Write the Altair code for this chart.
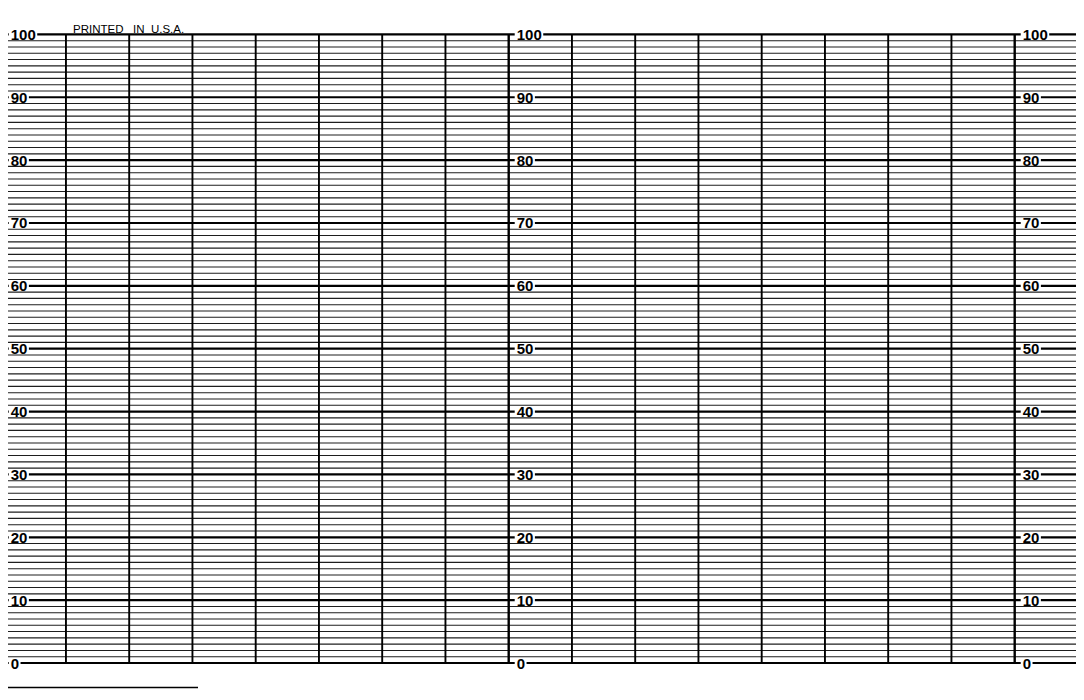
import altair as alt
import pandas as pd

# ---- data -------------------------------------------------------------
divisions = list(range(0, 18))          # vertical time divisions
section_starts = [0, 8, 16]             # heavy section lines carrying scale labels
levels = list(range(0, 101))            # horizontal chart lines (0..100)
major_levels = list(range(0, 101, 10))  # labelled lines
imprint_text = "PRINTED\u00a0\u00a0\u00a0IN\u00a0\u00a0U.S.A."

# ---- scales (division units / percent units) -------------------------
DIV_PX = 63.25
UNIT_PX = 6.286
VIEW_W, VIEW_H = 1068, 682
X_DOMAIN = [0.0838, 0.0838 + VIEW_W / DIV_PX]
Y_TOP = 100 + 26.4 / UNIT_PX
Y_DOMAIN = [Y_TOP - VIEW_H / UNIT_PX, Y_TOP]
xs = alt.Scale(domain=X_DOMAIN, nice=False, zero=False)
ys = alt.Scale(domain=Y_DOMAIN, nice=False, zero=False)

minor_df = pd.DataFrame({"v": [v for v in levels if v % 10 != 0]})
major_df = pd.DataFrame({"v": major_levels})
vert_df = pd.DataFrame({"d": [d for d in divisions if d not in section_starts],
                        "top": 100, "bot": 0})
sect_df = pd.DataFrame({"d": section_starts, "top": 100, "bot": 0})

FS = 15
lab_rows = []
for s in section_starts:
    for v in major_levels:
        t = str(v)
        lab_rows.append({
            "v": v, "t": t,
            "tx": s + 8 / DIV_PX,
            "b0": s + 6 / DIV_PX,
            "b1": s + (8 + len(t) * FS * 0.556 + 1.5) / DIV_PX,
        })
lab_df = pd.DataFrame(lab_rows)

X = lambda f: alt.X(f, type="quantitative", scale=xs, axis=None)
Y = lambda f: alt.Y(f, type="quantitative", scale=ys, axis=None)

minor = alt.Chart(minor_df).mark_rule(color="#1e1e1e", strokeWidth=1.1).encode(y=Y("v"))
major = alt.Chart(major_df).mark_rule(color="#000000", strokeWidth=2.2).encode(y=Y("v"))
verts = alt.Chart(vert_df).mark_rule(color="#000000", strokeWidth=1.9).encode(
    x=X("d"), y=Y("top"), y2="bot")
sects = alt.Chart(sect_df).mark_rule(color="#000000", strokeWidth=2.4).encode(
    x=X("d"), y=Y("top"), y2="bot")
boxes = alt.Chart(lab_df).mark_rule(color="white", strokeWidth=6).encode(
    x=X("b0"), x2="b1", y=Y("v"))
labels = alt.Chart(lab_df).mark_text(
    align="left", baseline="middle", font="Liberation Sans", fontWeight="bold",
    fontSize=FS, color="#000000", dy=0.5).encode(x=X("tx"), y=Y("v"), text="t:N")

imprint_df = pd.DataFrame({"x": [1.1115], "y": [100.7], "t": [imprint_text]})
imprint = alt.Chart(imprint_df).mark_text(
    align="left", baseline="middle", font="Liberation Sans", fontSize=11.5,
    color="#000000").encode(x=X("x"), y=Y("y"), text="t:N")

stub_df = pd.DataFrame({"x0": [X_DOMAIN[0]], "x1": [(198 - 2.7) / DIV_PX], "y": [-3.9]})
stub = alt.Chart(stub_df).mark_rule(color="#000000", strokeWidth=1.4).encode(
    x=X("x0"), x2="x1", y=Y("y"))

chart = alt.layer(minor, major, verts, sects, boxes, labels, imprint, stub).properties(
    width=VIEW_W, height=VIEW_H, padding=0, autosize="none", background="white"
).configure_view(stroke=None)

chart.save("out.html", embed_options={"renderer": "svg", "actions": False})
